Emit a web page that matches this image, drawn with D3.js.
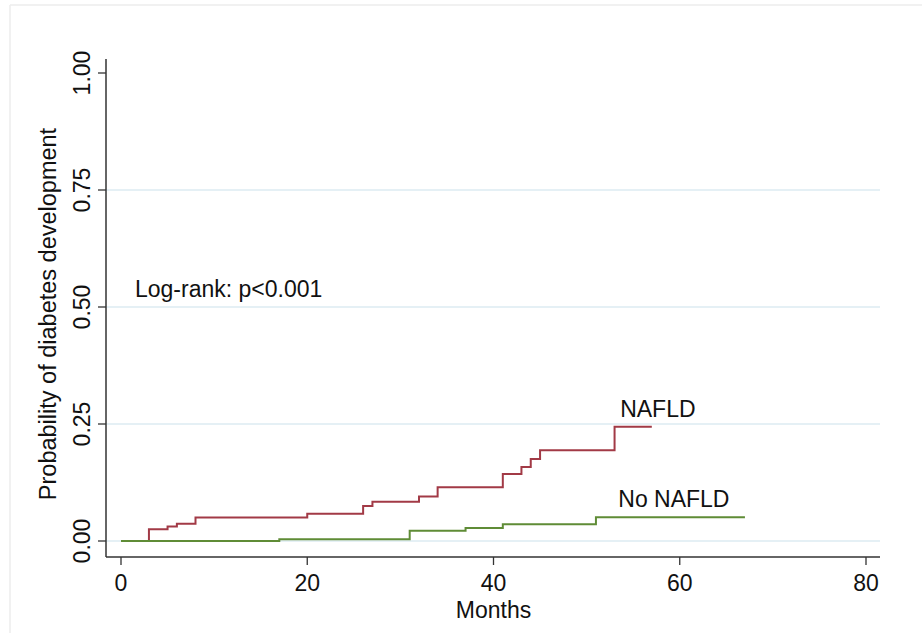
<!DOCTYPE html>
<html>
<head>
<meta charset="utf-8">
<script src="https://cdn.jsdelivr.net/npm/d3@7"></script>
<style>
  body { margin: 0; background: #fff; }
  text { font-family: "Liberation Sans", Arial, sans-serif; fill: #111; }
</style>
</head>
<body>
<div class="kmChart"></div>
<script>
// Kaplan-Meier style cumulative incidence
let nafldMonths = [0, 3, 5, 6, 8, 20, 26, 27, 32, 34, 41, 43, 44, 45, 53, 57];
let nafldProb   = [0, 0.025, 0.031, 0.037, 0.050, 0.058, 0.075, 0.084, 0.095, 0.115, 0.143, 0.158, 0.175, 0.194, 0.244, 0.244];

let noNafldMonths = [0, 17, 31, 37, 41, 51, 67];
let noNafldProb   = [0, 0.004, 0.022, 0.028, 0.036, 0.051, 0.051];

let xTicks = [0, 20, 40, 60, 80];
let yTicks = [0, 0.25, 0.5, 0.75, 1];
let gridTicks = [0, 0.25, 0.5, 0.75];

let width = 922;
let height = 633;

let svg = d3.select(".kmChart")
  .append("svg")
  .attr("width", width)
  .attr("height", height);

// faint outer frame of the exported graph
svg.append("line")
  .attr("x1", 10).attr("x2", width)
  .attr("y1", 5).attr("y2", 5)
  .style("stroke", "#ececec").style("stroke-width", 1.5);
svg.append("line")
  .attr("x1", 10).attr("x2", 10)
  .attr("y1", 5).attr("y2", height)
  .style("stroke", "#ececec").style("stroke-width", 1.5);

let x = d3.scaleLinear().domain([0, 80]).range([121, 866]);
let y = d3.scaleLinear().domain([0, 1]).range([541, 73]);

let axisLeft = 106, axisRight = 880, axisTop = 59, axisBottom = 557;

// grid
svg.selectAll(".grid")
  .data(gridTicks)
  .enter().append("line")
  .attr("class", "grid")
  .attr("x1", axisLeft).attr("x2", axisRight)
  .attr("y1", d => y(d)).attr("y2", d => y(d))
  .style("stroke", "#dcebf2")
  .style("stroke-width", 1.6);

// axis lines
svg.append("line")
  .attr("x1", axisLeft).attr("x2", axisLeft)
  .attr("y1", axisTop).attr("y2", axisBottom)
  .style("stroke", "#333").style("stroke-width", 1.5);
svg.append("line")
  .attr("x1", axisLeft).attr("x2", axisRight)
  .attr("y1", axisBottom).attr("y2", axisBottom)
  .style("stroke", "#333").style("stroke-width", 1.5);

// y ticks + rotated labels
svg.selectAll(".ytick")
  .data(yTicks)
  .enter().append("line")
  .attr("class", "ytick")
  .attr("x1", axisLeft - 8).attr("x2", axisLeft)
  .attr("y1", d => y(d)).attr("y2", d => y(d))
  .style("stroke", "#333").style("stroke-width", 1.3);

svg.selectAll(".ylabel")
  .data(yTicks)
  .enter().append("text")
  .attr("class", "ylabel")
  .attr("text-anchor", "middle")
  .attr("font-size", 23)
  .attr("transform", d => "translate(90," + y(d) + ") rotate(-90)")
  .text(d => d3.format(".2f")(d));

// x ticks + labels
svg.selectAll(".xtick")
  .data(xTicks)
  .enter().append("line")
  .attr("class", "xtick")
  .attr("x1", d => x(d)).attr("x2", d => x(d))
  .attr("y1", axisBottom).attr("y2", axisBottom + 8)
  .style("stroke", "#333").style("stroke-width", 1.3);

svg.selectAll(".xlabel")
  .data(xTicks)
  .enter().append("text")
  .attr("class", "xlabel")
  .attr("text-anchor", "middle")
  .attr("font-size", 23)
  .attr("x", d => x(d))
  .attr("y", 591)
  .text(String);

// axis titles
svg.append("text")
  .attr("text-anchor", "middle")
  .attr("font-size", 23)
  .attr("x", x(40))
  .attr("y", 618)
  .text("Months");

svg.append("text")
  .attr("text-anchor", "middle")
  .attr("font-size", 23.5)
  .attr("transform", "translate(56," + y(0.485) + ") rotate(-90)")
  .text("Probability of diabetes development");

// step curves
let step = d3.line()
  .curve(d3.curveStepAfter)
  .x(d => x(d[0]))
  .y(d => y(d[1]));

let curves = [
  { name: "NAFLD", pts: d3.zip(nafldMonths, nafldProb), color: "#a23a46" },
  { name: "No NAFLD", pts: d3.zip(noNafldMonths, noNafldProb), color: "#5f8c36" }
];

svg.selectAll(".curve")
  .data(curves)
  .enter().append("path")
  .attr("class", "curve")
  .attr("d", d => step(d.pts))
  .style("fill", "none")
  .style("stroke", d => d.color)
  .style("stroke-width", 2);

// annotations
svg.append("text")
  .attr("font-size", 23)
  .attr("x", x(1.5))
  .attr("y", y(0.521))
  .text("Log-rank: p<0.001");

svg.append("text")
  .attr("font-size", 23)
  .attr("x", x(53.6))
  .attr("y", y(0.265))
  .text("NAFLD");

svg.append("text")
  .attr("font-size", 23)
  .attr("x", x(53.4))
  .attr("y", y(0.072))
  .text("No NAFLD");
</script>
</body>
</html>
